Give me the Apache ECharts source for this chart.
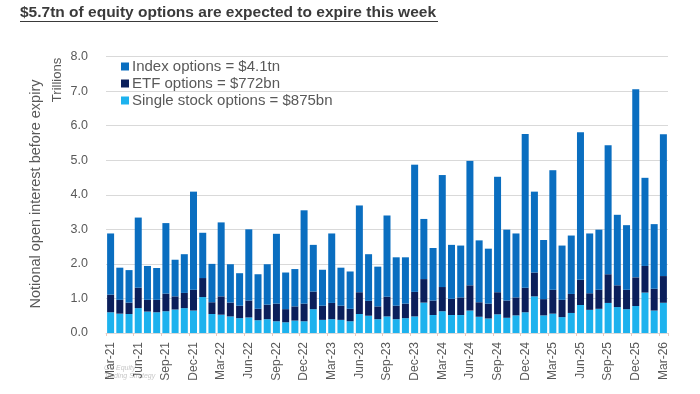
<!DOCTYPE html>
<html>
<head>
<meta charset="utf-8">
<script src="https://cdn.jsdelivr.net/npm/echarts@6/dist/echarts.min.js"></script>
<style>
html,body{margin:0;padding:0;background:#fff;}
#chart{width:700px;height:394px;}
</style>
</head>
<body>
<div id="chart"></div>
<script>
// Monthly expiries Mar-21 .. Mar-26
const startYear = 21, startMonth = 2; // March (0-based)
const monthNames = ['Jan','Feb','Mar','Apr','May','Jun','Jul','Aug','Sep','Oct','Nov','Dec'];
const categories = [];
for (let i = 0; i < 61; i++) {
  const m = (startMonth + i) % 12;
  const y = startYear + Math.floor((startMonth + i) / 12);
  categories.push(monthNames[m] + '-' + y);
}

// Trillions of USD notional
const singleStock = [0.60,0.56,0.55,0.72,0.62,0.60,0.63,0.68,0.72,0.65,1.04,0.55,
  0.53,0.48,0.43,0.45,0.37,0.40,0.34,0.31,0.36,0.34,0.69,0.38,
  0.40,0.38,0.34,0.55,0.50,0.40,0.48,0.40,0.43,0.48,0.88,0.52,
  0.63,0.52,0.52,0.65,0.47,0.42,0.54,0.44,0.51,0.60,1.06,0.51,
  0.56,0.46,0.58,0.81,0.67,0.70,0.87,0.75,0.69,0.78,1.17,0.65,
  0.875];
const etf = [0.51,0.40,0.33,0.59,0.34,0.36,0.51,0.38,0.44,0.60,0.55,0.34,
  0.53,0.40,0.36,0.49,0.33,0.42,0.51,0.38,0.41,0.51,0.51,0.41,
  0.47,0.41,0.36,0.63,0.43,0.37,0.57,0.39,0.42,0.71,0.68,0.42,
  0.70,0.47,0.51,0.73,0.42,0.43,0.64,0.50,0.52,0.71,0.69,0.47,
  0.69,0.50,0.55,0.73,0.48,0.55,0.83,0.63,0.56,0.83,0.77,0.63,
  0.772];
const indexOpts = [1.77,0.93,0.94,2.03,0.98,0.92,2.04,1.06,1.12,2.84,1.31,1.11,
  2.14,1.11,0.94,2.06,1.00,1.17,2.02,1.06,1.08,2.70,1.35,1.04,
  2.01,1.10,1.08,2.51,1.35,1.15,2.35,1.40,1.34,3.68,1.74,1.52,
  3.24,1.56,1.50,3.60,1.79,1.59,3.34,2.05,1.85,4.45,2.34,1.71,
  3.46,1.57,1.69,4.27,1.73,1.74,3.73,2.04,1.87,5.44,2.55,1.87,
  4.10];

const seriesNames = ['Index options = $4.1tn','ETF options = $772bn','Single stock options = $875bn'];
const colors = { index:'#0a6ec0', etf:'#0b1f5b', single:'#1db2ee' };
const font = 'Liberation Sans, Arial, sans-serif';

const chart = echarts.init(document.getElementById('chart'), null, {renderer:'canvas'});
chart.setOption({
  animation:false,
  backgroundColor:'#ffffff',
  textStyle:{fontFamily:font},
  grid:{left:106, right:32, top:56.5, bottom:61, containLabel:false},
  legend:{
    orient:'vertical', left:116, top:54, itemWidth:8, itemHeight:8, itemGap:2,
    icon:'rect',
    data:[seriesNames[0], seriesNames[1], seriesNames[2]],
    textStyle:{fontFamily:font, fontSize:15, color:'#595959', padding:[0,0,0,-2]}
  },
  xAxis:{
    type:'category', data:categories,
    axisLine:{show:true, lineStyle:{color:'#d9d9d9', width:1}},
    axisTick:{show:true, alignWithLabel:false, length:3, lineStyle:{color:'#e8c9c0'}},
    axisLabel:{interval:2, rotate:90, fontSize:12, color:'#595959', margin:9, fontFamily:font}
  },
  yAxis:{
    type:'value', min:0, max:8, interval:1,
    axisLine:{show:false}, axisTick:{show:false},
    splitLine:{lineStyle:{color:'#d9d9d9', width:1}},
    axisLabel:{fontSize:12.5, color:'#595959', margin:18, fontFamily:font,
      formatter:v=>v.toFixed(1)}
  },
  series:[
    {name:seriesNames[2], type:'bar', stack:'t', data:singleStock, barWidth:'76%', itemStyle:{color:colors.single}},
    {name:seriesNames[1], type:'bar', stack:'t', data:etf, itemStyle:{color:colors.etf}},
    {name:seriesNames[0], type:'bar', stack:'t', data:indexOpts, itemStyle:{color:colors.index}}
  ],
  graphic:[
    {type:'text', left:20, top:5, style:{text:'$5.7tn of equity options are expected to expire this week',
      font:'bold 15.5px Liberation Sans, Arial, sans-serif', fill:'#3a3a3a'}},
    {type:'line', shape:{x1:20, y1:21.5, x2:438, y2:21.5}, style:{stroke:'#3a3a3a', lineWidth:1.2}},
    {type:'text', x:57, y:80, rotation:Math.PI/2, style:{text:'Trillions', font:'13px Liberation Sans, Arial, sans-serif',
      fill:'#595959', textAlign:'center', textVerticalAlign:'middle'}},
    {type:'text', x:36, y:194, rotation:Math.PI/2, style:{text:'Notional open interest before expiry', font:'14.5px Liberation Sans, Arial, sans-serif',
      fill:'#595959', textAlign:'center', textVerticalAlign:'middle'}},
    {type:'text', x:104, y:364, style:{text:'GS Equity\nTrading Strategy', font:'italic 7px Liberation Sans, Arial, sans-serif',
      fill:'#c8c8c8', lineHeight:8}}
  ]
});
</script>
</body>
</html>
